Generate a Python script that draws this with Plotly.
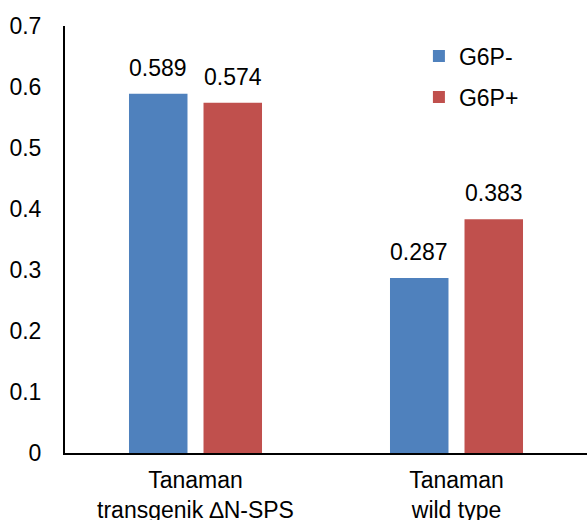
import plotly.graph_objects as go

categories = ["Tanaman<br>transgenik \u2206N-SPS", "Tanaman<br>wild type"]
series_names = ["G6P-", "G6P+"]
g6p_minus = [0.589, 0.287]
g6p_plus = [0.574, 0.383]
label_minus = ["0.589", "0.287"]
label_plus = ["0.574", "0.383"]
y_ticks = [0, 0.1, 0.2, 0.3, 0.4, 0.5, 0.6, 0.7]
y_tick_text = ["0", "0.1", "0.2", "0.3", "0.4", "0.5", "0.6", "0.7"]

colors = ["#4F81BD", "#C0504D"]
FONT = "Liberation Sans, Arial, sans-serif"
FS = 23
bargap = 0.429

fig = go.Figure()
for name, vals, col, grp in zip(series_names, [g6p_minus, g6p_plus], colors, ["a", "b"]):
    fig.add_trace(go.Bar(x=categories, y=vals, name=name, marker=dict(color=col, line=dict(width=0)),
                         legendgroup=grp))

slot = (1 - bargap) / 2
annotations = []
for i in range(len(categories)):
    for k, (vals, labs) in enumerate([(g6p_minus, label_minus), (g6p_plus, label_plus)]):
        offset = (k - 0.5) * slot
        annotations.append(dict(x=i + offset, y=vals[i], xref="x", yref="y", text=labs[i],
                                showarrow=False, yanchor="bottom", yshift=11,
                                font=dict(family=FONT, size=FS, color="black")))

fig.update_layout(
    width=587, height=520,
    margin=dict(l=65, r=0, t=26, b=67, autoexpand=False),
    paper_bgcolor="white", plot_bgcolor="white",
    font=dict(family=FONT, size=FS, color="black"),
    barmode="group", bargap=bargap, bargroupgap=0.215,
    showlegend=True,
    legend=dict(x=0.678, y=0.98, xanchor="left", yanchor="top", bgcolor="rgba(0,0,0,0)",
                font=dict(family=FONT, size=FS, color="black"), tracegroupgap=8,
                traceorder="grouped"),
    annotations=annotations,
    xaxis=dict(showline=True, linecolor="black", linewidth=2, ticks="", showgrid=False,
               tickfont=dict(family=FONT, size=FS, color="black"), ticklabelstandoff=5,
               automargin=False),
    yaxis=dict(range=[0, 0.7], tickvals=y_ticks, ticktext=y_tick_text, showline=True,
               linecolor="black", linewidth=2, ticks="", showgrid=False, zeroline=False,
               tickfont=dict(family=FONT, size=FS, color="black"), ticklabelstandoff=17,
               automargin=False),
)

fig.write_html("out.html", config={"displayModeBar": False},
               post_script="document.body.style.margin='0';")
